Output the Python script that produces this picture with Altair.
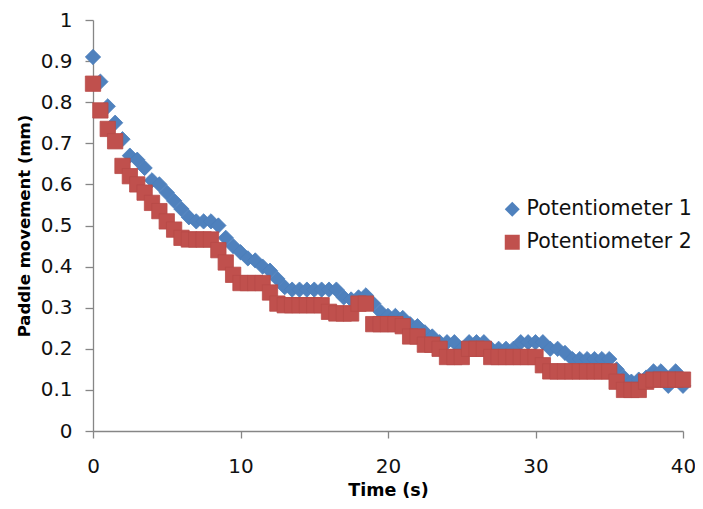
import altair as alt
import pandas as pd

time_s = [i * 0.5 for i in range(81)]

pot1 = [0.91, 0.85, 0.79, 0.75, 0.71, 0.67, 0.66, 0.64, 0.61, 0.60,
        0.58, 0.56, 0.54, 0.52, 0.51, 0.51, 0.51, 0.50, 0.47, 0.45,
        0.435, 0.42, 0.415, 0.40, 0.39, 0.37, 0.35, 0.344, 0.344, 0.344,
        0.344, 0.344, 0.344, 0.344, 0.325, 0.32, 0.325, 0.33, 0.31, 0.29,
        0.28, 0.28, 0.275, 0.26, 0.255, 0.24, 0.23, 0.216, 0.216, 0.216,
        0.2, 0.216, 0.216, 0.216, 0.2, 0.2, 0.2, 0.2, 0.216, 0.216,
        0.216, 0.216, 0.2, 0.2, 0.19, 0.175, 0.175, 0.175, 0.175, 0.175,
        0.175, 0.15, 0.13, 0.12, 0.125, 0.13, 0.145, 0.145, 0.11, 0.145,
        0.11]

pot2 = [0.845, 0.78, 0.735, 0.705, 0.645, 0.62, 0.60, 0.58, 0.555, 0.535,
        0.51, 0.49, 0.47, 0.466, 0.466, 0.466, 0.466, 0.44, 0.41, 0.38,
        0.36, 0.36, 0.36, 0.36, 0.337, 0.31, 0.306, 0.306, 0.306, 0.306,
        0.306, 0.306, 0.29, 0.286, 0.286, 0.286, 0.31, 0.31, 0.26, 0.26,
        0.26, 0.26, 0.255, 0.23, 0.23, 0.21, 0.21, 0.2, 0.18, 0.18,
        0.18, 0.2, 0.2, 0.2, 0.18, 0.18, 0.18, 0.18, 0.18, 0.18,
        0.18, 0.16, 0.145, 0.145, 0.145, 0.145, 0.145, 0.145, 0.145, 0.145,
        0.145, 0.12, 0.1, 0.1, 0.1, 0.12, 0.125, 0.125, 0.125, 0.125,
        0.125]

series_names = ["Potentiometer 1", "Potentiometer 2"]

df = pd.concat([
    pd.DataFrame({"time": time_s, "value": pot1, "series": series_names[0], "order": 0}),
    pd.DataFrame({"time": time_s, "value": pot2, "series": series_names[1], "order": 1}),
], ignore_index=True)

FONT = "DejaVu Sans"

chart = alt.Chart(df).mark_point(filled=True, opacity=1, size=235, strokeWidth=0.8).encode(
    x=alt.X("time:Q", title="Time (s)",
            scale=alt.Scale(domain=[0, 40], nice=False, zero=False),
            axis=alt.Axis(values=[0, 10, 20, 30, 40], grid=False, tickSize=7,
                          labelPadding=18, titlePadding=5, titleFontSize=17.5,
                          labelFlush=False)),
    y=alt.Y("value:Q", title="Paddle movement (mm)",
            scale=alt.Scale(domain=[0, 1], nice=False),
            axis=alt.Axis(values=[round(i * 0.1, 1) for i in range(11)], format="~g",
                          grid=False, tickSize=8, labelPadding=13, titlePadding=8,
                          titleFontSize=16.5, labelFlush=False)),
    color=alt.Color("series:N", title=None,
                    scale=alt.Scale(domain=series_names, range=["#4F81BD", "#C0504D"]),
                    legend=alt.Legend(orient="none", legendX=409, legendY=179,
                                      symbolSize=225, labelFontSize=20.5, labelFont=FONT,
                                      labelColor="#111", rowPadding=12, labelOffset=4,
                                      symbolStrokeWidth=0, padding=0, labelLimit=300)),
    shape=alt.Shape("series:N", title=None,
                    scale=alt.Scale(domain=series_names, range=["diamond", "square"])),
    stroke=alt.Stroke("series:N", legend=None,
                      scale=alt.Scale(domain=series_names, range=["#4A7EBB", "#B84A47"])),
    order=alt.Order("order:Q"),
).properties(
    width=590, height=411,
    autosize=alt.AutoSizeParams(type="none"),
    padding={"left": 85, "top": 12, "right": 12, "bottom": 70},
).configure_axis(
    domainColor="#868686", tickColor="#868686", labelColor="#111",
    labelFont=FONT, labelFontSize=20, titleFont=FONT,
    titleFontWeight="bold", titleColor="#000", domainWidth=1.3, tickWidth=1.3,
).configure_view(stroke=None)

chart.save("out.html", embed_options={"renderer": "svg", "actions": False})
